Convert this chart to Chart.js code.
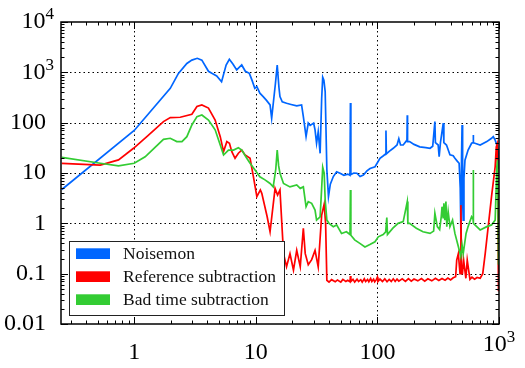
<!DOCTYPE html>
<html><head><meta charset="utf-8">
<script src="https://cdn.jsdelivr.net/npm/chart.js@4/dist/chart.umd.min.js"></script>
<style>html,body{margin:0;padding:0;background:#fff;}#wrap{width:525px;height:368px;}</style>
</head><body><div id="wrap"><canvas id="c" width="525" height="368"></canvas></div>
<script>
const seriesNames = ['Noisemon', 'Reference subtraction', 'Bad time subtraction'];
const seriesColors = ['#0066ff', '#ff0000', '#33cc33'];

const noisemonX = [0.254,1.0,1.98,2.31,2.71,2.98,3.3,3.6,4.08,4.35,4.77,5.23,5.7,6.06,6.5,6.96,7.66,8.2,8.85,9.3,9.81,10.2,10.8,11.5,12.2,13.1,13.5,14.5,15.0,15.5,15.8,16.5,17.9,19.5,21.7,23.8,24.6,25.9,27,28,29.9,30.7,31.6,32.6,33.8,34.8,35.5,36.3,37.2,38.4,39.6,41,43.4,46.2,49.3,53,57,59.5,60,60.5,64,67.8,72,76.7,82,87,95.6,100,105,112,117,117.6,118.5,125,135,145,150,155,163,175,176,177,184,200,223,250,271,285,297,300,316,322,330,348,352,370,395,420,434,455,470,480,486,492,497,502,508,515,525,557,595,612,614,617,700,794,868,897,930,960,990,1000];
const noisemonY = [4.7,70,480,950,1500,1750,1900,1750,1050,955,850,650,1400,1820,1450,1115,1400,1050,955,700,480,520,385,330,280,225,122,600,1400,500,330,260,243,230,215,225,132,53,98,88,98,72,39,66,24.6,300,800,700,415,11.5,3.4,6,8.5,10.6,9.9,9,9.5,9,245,9.3,10,9.9,8.5,9.1,11,12.3,13.3,16,19.6,22,24,70,24,27,31,36,48,36,36,45,140,42,42,37,33,32,31,34,105,40,36,21,40,98,40,36,23,22,19.6,17,15.6,5,0.63,20,90,3,1.16,8,18,28.6,39,40,57,40,36,42,49,53,45,36,25,12];

const referenceX = [0.254,0.526,0.743,0.987,1.27,1.74,1.98,2.39,2.98,3.28,3.6,4.08,4.63,5.1,5.43,5.78,6.07,6.35,6.75,7.19,7.66,8.16,8.97,9.56,10.2,10.9,11.2,12.4,13.1,14.4,15.1,15.8,16.9,17.9,19.1,20.4,21.7,23.2,24.6,25.5,27,28.8,30.7,32.6,34.8,36.5,37.5,38.4,40,42,45,47,50,52,55,57,59.5,60,60.5,63,65,68,70,73,75,78,80,83,85,88,90,93,95,98,100,101,105,110,115,120,125,130,135,140,145,150,160,170,180,190,200,215,230,245,260,280,300,320,340,360,380,400,420,440,449,463,478,486,492,500,512,534,548,577,600,630,660,700,735,770,815,868,930,950,968,990,1000];
const referenceY = [15.6,14.4,18.2,31,52.7,105,126,128,147,209,225,195,113,52.7,26.6,42,39,26.6,19.6,24.7,28.6,22.8,19.6,8.4,3.4,4.6,3.95,1.35,0.68,4.95,3.65,4.6,0.25,0.137,0.25,0.118,0.29,0.137,0.8,0.25,0.15,0.19,0.29,0.137,1.46,2.4,1.0,0.074,0.068,0.076,0.069,0.075,0.068,0.077,0.07,0.074,0.069,0.09,0.07,0.077,0.068,0.078,0.07,0.076,0.068,0.079,0.07,0.077,0.069,0.08,0.07,0.078,0.069,0.076,0.085,0.07,0.078,0.07,0.079,0.069,0.077,0.07,0.079,0.07,0.078,0.071,0.079,0.07,0.08,0.071,0.078,0.072,0.08,0.071,0.079,0.072,0.081,0.073,0.08,0.074,0.082,0.075,0.083,0.087,0.186,0.25,0.1,2.3,0.1,0.1,0.186,0.081,0.186,0.077,0.085,0.078,0.084,0.081,0.1,0.25,0.86,3.4,13.4,33,38,0.045,0.06];

const badTimeX = [0.254,0.526,0.743,1.0,1.23,1.74,1.98,2.24,2.47,2.71,2.98,3.28,3.6,4.08,4.63,5.1,5.43,5.96,6.56,7.19,7.66,8.43,8.97,9.85,10.8,11.9,13.1,13.9,14.6,15.0,15.4,15.8,16.9,19.1,21.7,23.2,24.6,25.9,27,28.8,30.7,31.6,33.8,34.8,35.5,36.5,37.2,38.4,40,43.4,46.2,50.7,55.6,59.5,60,60.5,65,71.7,79,86.7,95.5,101.7,111.5,117,119.5,121,134,148,163,176,178,184,209,237,271,290,297,311,325,335,340,347,352,359,366,372,382,395,415,434,464,485,497,508,536,557,595,612,614,617,700,794,868,930,960,975,990,1000];
const badTimeY = [20.5,15.6,13.8,15.6,21,46.7,49,42,42,52.7,90,132,142,113,72,36,22.8,28.6,28.6,31.8,28.6,19.6,15.6,11.5,8.4,7.3,6.2,5.3,12,28.6,14,9.9,6.2,5.3,5.8,4.95,5.3,2.14,2.7,2.5,1.84,1.16,1.35,5,13,9.9,2.9,1.16,1.0,0.86,0.93,0.63,0.68,0.6,4.6,0.58,0.47,0.4,0.34,0.38,0.43,0.54,0.6,0.68,1.3,0.6,0.8,1.0,1.08,2.7,1.0,1.0,0.8,0.68,0.63,0.7,1.58,0.86,0.75,1.35,2.14,1.3,2.5,1.16,2.7,0.86,1.7,0.86,1.16,0.63,0.34,0.22,0.37,0.25,0.63,0.86,1.35,1.2,11.5,1.0,0.74,0.86,0.93,1.16,13.4,18,0.15,1.0];

const xTickValues = [1, 10, 100, 1000];
const xTickLabels = ['1', '10', '100', '10^3'];
const yTickValues = [0.01, 0.1, 1, 10, 100, 1000, 10000];
const yTickLabels = ['0.01', '0.1', '1', '10', '100', '10^3', '10^4'];
const xMin = 0.25, xMax = 1000, yMin = 0.01, yMax = 10000;

const toPts = (xs, ys) => xs.map((x, i) => ({x: x, y: ys[i]}));
const seriesX = [noisemonX, referenceX, badTimeX];
const seriesY = [noisemonY, referenceY, badTimeY];

function minorValues(lo, hi) {
  const out = [];
  for (let e = -3; e <= 5; e++) for (let m = 1; m <= 9; m++) {
    const v = m * Math.pow(10, e);
    if (v >= lo * 0.9999 && v <= hi * 1.0001) out.push(v);
  }
  return out;
}
const isMajor = (v, arr) => arr.some(t => Math.abs(Math.log10(t) - Math.log10(v)) < 1e-6);

const SERIF = "'Liberation Serif', 'DejaVu Serif', serif";
const TICK_SIZE = 24, EXP_SIZE = 17, X_PAD = 6, Y_PAD = 7;

function drawPowerLabel(ctx, label, xPos, yMid, align) {
  const parts = label.split('^');
  ctx.font = TICK_SIZE + 'px ' + SERIF;
  const wb = ctx.measureText(parts[0]).width;
  ctx.font = EXP_SIZE + 'px ' + SERIF;
  const we = ctx.measureText(parts[1]).width;
  const total = wb + we;
  let x0 = align === 'right' ? xPos - total : xPos - total / 2;
  ctx.textAlign = 'left'; ctx.textBaseline = 'middle'; ctx.fillStyle = '#000';
  ctx.font = TICK_SIZE + 'px ' + SERIF;
  ctx.fillText(parts[0], x0, yMid);
  ctx.font = EXP_SIZE + 'px ' + SERIF;
  ctx.fillText(parts[1], x0 + wb, yMid - 7);
}

const framePlugin = {
  id: 'frame',
  beforeDatasetsDraw(chart) {
    const ctx = chart.ctx, a = chart.chartArea, x = chart.scales.x, y = chart.scales.y;
    ctx.save();
    ctx.strokeStyle = '#000'; ctx.lineWidth = 1; ctx.setLineDash([1.5, 3]);
    xTickValues.forEach(v => {
      const p = Math.round(x.getPixelForValue(v)) + 0.5;
      if (p <= a.left + 2 || p >= a.right - 2) return;
      ctx.beginPath(); ctx.moveTo(p, a.top); ctx.lineTo(p, a.bottom); ctx.stroke();
    });
    yTickValues.forEach(v => {
      const p = Math.round(y.getPixelForValue(v)) + 0.5;
      if (p <= a.top + 2 || p >= a.bottom - 2) return;
      ctx.beginPath(); ctx.moveTo(a.left, p); ctx.lineTo(a.right, p); ctx.stroke();
    });
    ctx.restore();
  },
  afterDatasetsDraw(chart) {
    const ctx = chart.ctx, a = chart.chartArea, x = chart.scales.x, y = chart.scales.y;
    ctx.save();
    ctx.strokeStyle = '#000'; ctx.lineWidth = 1; ctx.setLineDash([]);
    minorValues(xMin, xMax).forEach(v => {
      const p = Math.round(x.getPixelForValue(v)) + 0.5;
      const L = isMajor(v, xTickValues) ? 7 : 3.5;
      ctx.beginPath();
      ctx.moveTo(p, a.bottom); ctx.lineTo(p, a.bottom - L);
      ctx.moveTo(p, a.top); ctx.lineTo(p, a.top + L);
      ctx.stroke();
    });
    minorValues(yMin, yMax).forEach(v => {
      const p = Math.round(y.getPixelForValue(v)) + 0.5;
      const L = isMajor(v, yTickValues) ? 7 : 3.5;
      ctx.beginPath();
      ctx.moveTo(a.left, p); ctx.lineTo(a.left + L, p);
      ctx.moveTo(a.right, p); ctx.lineTo(a.right - L, p);
      ctx.stroke();
    });
    ctx.lineWidth = 1.5;
    ctx.strokeRect(a.left, a.top, a.right - a.left, a.bottom - a.top);
    ctx.restore();
  },
  afterDraw(chart) {
    const ctx = chart.ctx, a = chart.chartArea, x = chart.scales.x, y = chart.scales.y;
    ctx.save();
    // power-of-ten tick labels (10^n) with raised exponent
    xTickLabels.forEach((lab, i) => {
      if (lab.indexOf('^') < 0) return;
      drawPowerLabel(ctx, lab, x.getPixelForValue(xTickValues[i]), x.top + X_PAD + TICK_SIZE * 1.2 / 2, 'center');
    });
    yTickLabels.forEach((lab, i) => {
      if (lab.indexOf('^') < 0) return;
      drawPowerLabel(ctx, lab, y.right - Y_PAD, y.getPixelForValue(yTickValues[i]), 'right');
    });
    // legend
    const bx = 69.5, by = 241.5, bw = 215, bh = 74;
    ctx.fillStyle = '#fff'; ctx.fillRect(bx, by, bw, bh);
    ctx.strokeStyle = '#222'; ctx.lineWidth = 1; ctx.strokeRect(bx, by, bw, bh);
    ctx.font = '17.5px ' + SERIF; ctx.textBaseline = 'alphabetic'; ctx.textAlign = 'left';
    chart.data.datasets.forEach((ds, i) => {
      const base = 259 + i * 23;
      ctx.fillStyle = ds.borderColor;
      ctx.fillRect(76, base - 10.7, 34, 10.7);
      ctx.fillStyle = '#111';
      ctx.fillText(ds.label, 123, base);
    });
    ctx.restore();
  }
};

new Chart(document.getElementById('c'), {
  type: 'line',
  data: {
    datasets: seriesNames.map((n, i) => ({
      label: n,
      data: toPts(seriesX[i], seriesY[i]),
      borderColor: seriesColors[i],
      backgroundColor: seriesColors[i],
      borderWidth: 1.7,
      pointRadius: 0,
      tension: 0,
      fill: false,
      order: 3 - i
    }))
  },
  options: {
    responsive: false,
    animation: false,
    devicePixelRatio: 1,
    layout: {padding: {top: 22, right: 26, left: 0, bottom: 0}},
    plugins: {legend: {display: false}, tooltip: {enabled: false}},
    scales: {
      x: {
        type: 'logarithmic', min: xMin, max: xMax,
        grid: {display: false}, border: {display: false},
        afterBuildTicks: s => { s.ticks = xTickValues.map(v => ({value: v})); },
        afterFit: s => { s.height = 44; },
        ticks: {
          autoSkip: false, maxRotation: 0, padding: X_PAD, color: '#000',
          font: {family: SERIF, size: TICK_SIZE, lineHeight: 1.2},
          callback: (v, i) => (xTickLabels[i].indexOf('^') < 0 ? xTickLabels[i] : '')
        }
      },
      y: {
        type: 'logarithmic', min: yMin, max: yMax,
        grid: {display: false}, border: {display: false},
        afterBuildTicks: s => { s.ticks = yTickValues.map(v => ({value: v})); },
        afterFit: s => { s.width = 61; },
        ticks: {
          autoSkip: false, padding: Y_PAD, color: '#000',
          font: {family: SERIF, size: TICK_SIZE, lineHeight: 1.2},
          callback: (v, i) => (yTickLabels[i].indexOf('^') < 0 ? yTickLabels[i] : '')
        }
      }
    }
  },
  plugins: [framePlugin]
});
</script>
</body></html>
